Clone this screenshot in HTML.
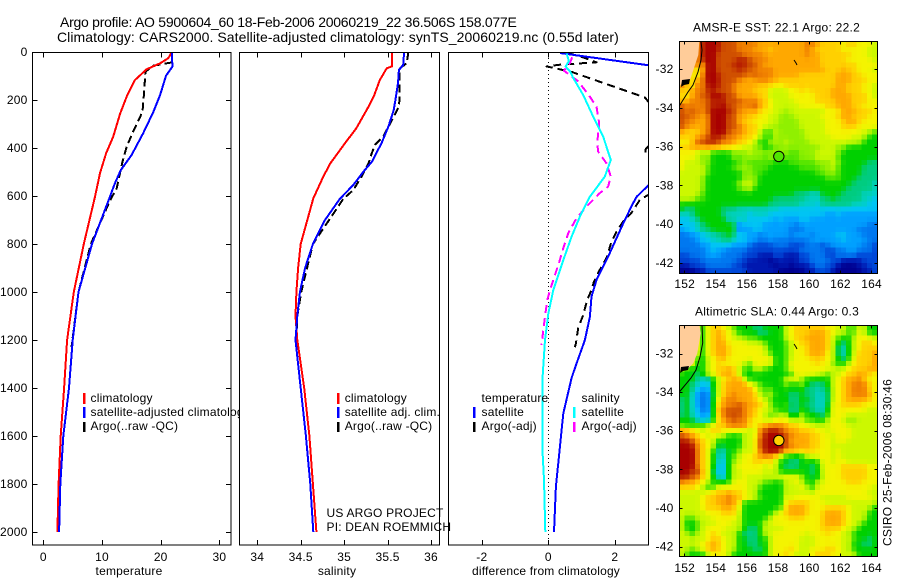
<!DOCTYPE html>
<html lang="en">
<head>
<meta charset="utf-8">
<title>Argo profile 5900604_60</title>
<style>
html,body{margin:0;padding:0;background:#fff;width:900px;height:580px;overflow:hidden}
svg{display:block;font-family:"Liberation Sans",sans-serif;font-size:12px;fill:#000}
text{letter-spacing:.2px}
.frame{fill:none;stroke:#000;stroke-width:1;shape-rendering:crispEdges}
.bg{fill:#fff;stroke:none}
.bar{stroke:none;shape-rendering:crispEdges}
</style>
</head>
<body>
<svg id="chart" xmlns="http://www.w3.org/2000/svg" width="900" height="580" viewBox="0 0 900 580">
<defs>
<clipPath id="clip-temp"><rect x="32.5" y="52.5" width="198.5" height="492.5"/></clipPath>
<clipPath id="clip-sal"><rect x="239.5" y="52.5" width="200" height="492.5"/></clipPath>
<clipPath id="clip-diff"><rect x="448.5" y="52.5" width="200" height="492.5"/></clipPath>
</defs>

<text x="60" y="27" font-size="14" textLength="457" lengthAdjust="spacing">Argo profile: AO 5900604_60 18-Feb-2006 20060219_22 36.506S 158.077E</text>
<text x="57" y="42" font-size="14" textLength="562" lengthAdjust="spacing">Climatology: CARS2000. Satellite-adjusted climatology: synTS_20060219.nc (0.55d later)</text>

<g id="panel-temp">
<rect class="bg" x="32.5" y="52.5" width="198.5" height="492.5"/>
<g id="series-temp"></g>
<rect class="frame" x="32.5" y="52.5" width="198.5" height="492.5"/>
<g id="ticks-temp"></g>
<text x="129" y="575" text-anchor="middle">temperature</text>
<g>
<rect class="bar" x="83" y="393" width="2.5" height="11" fill="#f00"/>
<rect class="bar" x="83" y="407" width="2.5" height="11" fill="#00f"/>
<rect class="bar" x="83" y="422" width="2.5" height="10" fill="#000"/>
<text x="90.5" y="402">climatology</text>
<text x="90.5" y="416">satellite-adjusted climatology</text>
<text x="90.5" y="430">Argo(..raw -QC)</text>
</g>
</g>

<g id="panel-sal">
<rect class="bg" x="239.5" y="52.5" width="200" height="492.5"/>
<g id="series-sal"></g>
<rect class="frame" x="239.5" y="52.5" width="200" height="492.5"/>
<g id="ticks-sal"></g>
<text x="337" y="575" text-anchor="middle">salinity</text>
<g>
<rect class="bar" x="337" y="393" width="2.5" height="11" fill="#f00"/>
<rect class="bar" x="337" y="407" width="2.5" height="11" fill="#00f"/>
<rect class="bar" x="337" y="422" width="2.5" height="10" fill="#000"/>
<text x="344.7" y="402">climatology</text>
<text x="344.7" y="416">satellite adj. clim.</text>
<text x="344.7" y="430">Argo(..raw -QC)</text>
</g>
</g>

<g id="panel-diff">
<rect class="bg" x="448.5" y="52.5" width="200" height="492.5"/>
<g id="series-diff"></g>
<rect class="frame" x="448.5" y="52.5" width="200" height="492.5"/>
<g id="ticks-diff"></g>
<text x="546" y="575" text-anchor="middle" textLength="148" lengthAdjust="spacing">difference from climatology</text>
<g>
<text x="481.5" y="402">temperature</text>
<rect class="bar" x="473" y="407" width="2.5" height="11" fill="#00f"/>
<rect class="bar" x="473" y="422" width="2.5" height="10" fill="#000"/>
<text x="481.5" y="416">satellite</text>
<text x="481.5" y="430">Argo(-adj)</text>
<text x="581.5" y="402">salinity</text>
<rect class="bar" x="573" y="407" width="2.5" height="11" fill="#0ff"/>
<rect class="bar" x="573" y="422" width="2.5" height="10" fill="#f0f"/>
<text x="581.5" y="416">satellite</text>
<text x="581.5" y="430">Argo(-adj)</text>
</g>
</g>

<text x="326.5" y="517">US ARGO PROJECT</text>
<text x="326.5" y="531">PI: DEAN ROEMMICH</text>

<g id="map-sst">
<text x="693" y="31.5" textLength="167" lengthAdjust="spacing">AMSR-E SST: 22.1  Argo: 22.2</text>
<g id="cells-sst"></g>
<polygon points="679.3,41.7 699.3,41.7 698.3,55 693,71 690,80 684,80 680,86 679.3,86" fill="#ffcc99"/>
<polygon points="682,80 690,79 689,84 684,85 681,87" fill="#000"/>
<polyline points="701,41.7 702,50 701,60 698,72 693,85 688,92 679.3,106" fill="none" stroke="#000" stroke-width="1"/>
<polyline points="794,60 796,63 797,65" fill="none" stroke="#000" stroke-width="1"/>
<g id="marker-sst"></g>
<rect class="frame" x="679.5" y="41.5" width="198" height="232"/>
<g id="ticks-sst"></g>
</g>

<g id="map-sla">
<text x="695" y="315.7" textLength="164" lengthAdjust="spacing">Altimetric SLA: 0.44  Argo: 0.3</text>
<g id="cells-sla"></g>
<polygon points="679.3,325 699.3,325 700.7,333.3 697.3,353.3 693.3,363.3 688.3,368.3 679.3,370.7" fill="#ffcc99"/>
<polygon points="681,367 689,366 688,370 683,371 680,373" fill="#000"/>
<polyline points="702,325 702.7,343 700,357 696,370 691,378 679.3,392" fill="none" stroke="#000" stroke-width="1"/>
<polyline points="794,344 796,347 797,349" fill="none" stroke="#000" stroke-width="1"/>
<g id="marker-sla"></g>
<rect class="frame" x="679.5" y="325.5" width="198" height="231"/>
<g id="ticks-sla"></g>
</g>

<text transform="translate(891.5,546) rotate(-90)" textLength="167" lengthAdjust="spacing">CSIRO 25-Feb-2006 08:30:46</text>
</svg>

<script>
// ---------- profile data ----------
const climTempDepth = [0,26,47,72,117,186,256,353,422,505,603,800,1000,1200,1400,1600,1800,2000];
const climTempValues = [21.9,21.3,19.9,17.6,15.6,14.2,13.1,11.9,10.7,9.66,8.8,6.9,5.2,4.05,3.55,2.97,2.6,2.4];
const satTempDepth = [0,61,99,179,249,339,429,492,547,610,800,1000,1200,1400,1600,1800,2000];
const satTempValues = [21.9,22.0,20.9,19.9,18.75,17.0,15.05,13.2,12.2,11.25,8.3,6.0,5.0,4.38,3.41,2.9,2.7];
const argoTempDepth = [43,57,82,158,249,332,394,457,568,617,800,1000,1230];
const argoTempValues = [22.0,18.75,17.4,17.2,16.9,15.3,14.2,13.5,12.5,11.4,8.1,6.0,4.8];

const climSalDepth = [0,60,68,117,186,228,318,380,464,519,610,800,900,1000,1100,1200,1400,1600,1800,2000];
const climSalValues = [35.55,35.55,35.49,35.41,35.34,35.28,35.14,35.01,34.84,34.76,34.645,34.5,34.47,34.45,34.44,34.46,34.54,34.6,34.64,34.68];
const satSalDepth = [0,54,75,130,200,242,311,380,457,499,554,612,700,800,900,1000,1100,1200,1400,1600,1800,2000];
const satSalValues = [35.69,35.68,35.63,35.62,35.59,35.57,35.51,35.43,35.32,35.22,35.105,34.95,34.78,34.64,34.55,34.49,34.46,34.44,34.5,34.56,34.61,34.645];
const argoSalDepth = [0,47,68,186,228,297,353,387,429,464,519,575,612,800,1000,1100,1230];
const argoSalValues = [35.74,35.72,35.64,35.64,35.63,35.53,35.45,35.355,35.31,35.28,35.2,35.105,34.99,34.64,34.505,34.46,34.45];

const diffSatTempDepth = [4,55,70,100,200,300,400,500,557,603,630,700,853,950,1019,1103,1200,1297,1358,1506,1671,1811,2000];
const diffSatTempValues = [0.35,3.0,3.4,5.0,5.6,5.5,5.0,3.7,3.0,2.66,2.55,2.3,1.8,1.45,1.3,1.25,1.1,0.85,0.7,0.45,0.33,0.23,0.17];
const diffArgoTempDepth = [5,20,43,53,60,83,189,300,405,420,500,596,617,671,707,749,790,858,908,957,992,1033,1096,1150,1214,1230];
const diffArgoTempValues = [0.6,1.0,1.45,0.35,-0.05,0.7,2.9,3.6,2.93,2.93,3.6,3.0,2.75,2.5,2.25,2.05,1.9,1.75,1.55,1.37,1.3,1.17,1.05,0.9,0.83,0.8];
const diffSatSalDepth = [6,38,61,80,108,179,269,353,450,519,603,686,769,867,992,1090,1200,1353,1671,1783,1999];
const diffSatSalValues = [0.55,0.62,0.52,0.65,0.75,1.05,1.35,1.65,1.88,1.7,1.25,0.95,0.7,0.45,0.15,0,-0.1,-0.17,-0.17,-0.13,-0.09];
const diffArgoSalDepth = [22,46,78,122,182,228,297,380,415,464,519,561,588,644,692,754,817,874,929,992,1033,1103,1158,1221];
const diffArgoSalValues = [0.72,0.65,0.47,0.9,1.23,1.45,1.53,1.47,1.5,1.75,1.88,1.8,1.55,1.15,0.85,0.6,0.45,0.33,0.2,0.05,-0.03,-0.1,-0.15,-0.2];
const zeroLineDepth = [-9,2054];
const zeroLineValues = [0,0];

// ---------- tick labels ----------
const depthTicks = [0,200,400,600,800,1000,1200,1400,1600,1800,2000];
const tempTicks = [0,10,20,30];
const salTicks = [34,34.5,35,35.5,36];
const diffTicks = [-2,0,2];
const lonTicks = [152,154,156,158,160,162,164];
const latTicks = [-32,-34,-36,-38,-40,-42];

// ---------- Argo float marker ----------
const argoLon = [158.077];
const argoLat = [-36.506];

// ---------- heatmap cells (base-36 level per cell, one string per row) ----------
const sstRows = [
"ffffhiihgggffffeeeeeeeeeffeddddcddcccb",
"ffffhiihgggfffeeedeeeeeefedddddcccccbb",
"ffffhiigggggffffeeeeeeeefeeddddddcccbb",
"ffffhiigggghhgfffeeeeeeeeeedddddcccccbb".slice(0,38),
"ffffeiiggghhhggfeeeeeeeeeeedddddddccccb".slice(0,38),
"ffcceiigggghggffffeeeeeeeeeedddeddcccbb".slice(0,38),
"ffccfiihgggggfgfffeeeeedddddddeeeddcccb".slice(0,38),
"ffcefiihgggfeeeffeedddddddddddeeedddccb".slice(0,38),
"fdcffhihggfeeeedddccddddddddddeedddccb",
"ddeffhhgggfeeedddbbbbccdcddddeeedddccb",
"dcefggiihggeeeeddbbbbcccccdddeeeedddcb",
"defffghhhgggfffedcbbbbccccddddeeedddcc",
"gffffghhiggfffgedcbbbbbcccccddeeeddccc",
"gfgffgiiihgfeeedccbbabbbbbbbccceeedddc",
"ggffefiiiggeeddccbbaaabbbbbcccdeedddcc",
"gffeefiiiggeddcccbbaaaabbbbbcccdeedccc",
"gfeeefiiiggfeddcbbaaaaabbbbbcccdddcccc",
"edddefiiigffeddb99baaaaabbbbcccccccbb9",
"dddefghhgffeddcb98baaaaabbbbbccccbbb88",
"ccdgghhgffeddcb88baabaaaabbbbbbbbbb888",
"ddeeeeeeddccbbaa88aaaaaaaaabbbaa888888",
"cccbab8888aaabaaaaaaa99aaabbbba8888888",
"cccbaa8888a9aaaa9aaa999aaabbbb98888888",
"cbbbaa888889a9999988899999aaaba8888877",
"cbbbb988889aaa9998888889999aab98888777",
"bbbbb9888888aa99888888888899aa988887777".slice(0,38),
"bbbba8888888aaa88888888888889998887777".slice(0,38),
"bbbba888888abba88888888888888888877776".padEnd(38,"6"),
"bbbba8888889ab888888888888888888777776",
"bbbb9888888888888888887776688887777666",
"bbb99888888888888877777766677877777665",
"88888888888888888777777666577777766655".slice(0,38),
"87788888777666666665555555555555555555",
"66788888766665666555555555554454444444",
"55678888866665555545444554444444444444",
"55567888888355554444443444444444444433",
"45567788888344554444433344444444443333",
"33445667787554434444434443444455444333",
"33345566776554433433333334444445444433",
"33334455554443222233322233323444444332",
"33333454433332222222222333332233443332",
"22333444333322211122111223332233332222",
"22223333333221111011111223333221111222",
"11222333332211111101101112332210001122",
"00011222222221111110000011222100000112"
];
const slaRows = [
"cccc8cddcb9888778888bcddddddccbb99bb88",
"cccc8cdedcb888877888bcdddeeedcbb99cb88",
"cccc8cdedcbba9988888bcddeeeedb988bcccb",
"cccc8cdeeccccbbb98889bcddeeedb878bcddc",
"cccc8cdeedccccccb8889bccdeeedb768bcddd",
"cccb8cdeedccccccb9889bccdeeecb768bddde",
"ccc98bcdeccccccccc889bcccdddcb878cddde",
"ccc88bcdccccb9cccc889cccccdcca88bcddde",
"c8888bcddedb98bb98889ccccccccbbbcdddee",
"88878bcdeedb8888888888ccccbb9bbcddeedc",
"8887668bcdeeb8888888bcca88888bcdeefdcc",
"8876558bdeeeecb98888a88a87778bcdefffdc",
"8875448bdeeeeeca9988888877677bcdefffdc",
"8864338bdefeeedb9b88877877667bcdefffec",
"7864338ceffeeedcb988877887667bcdeeeedc",
"7864338deffgfeedca88977877667ccddddccc",
"7865338efgggfedcbb98877887668cccccccbb",
"7865448dfgggfedcb9abb77b88878cccbbbbbb",
"8886558defgffdccbbcccbbb9988bccbaabbbb",
"98899bcddffffdcdefffeddccbbbbcccbbbbbb",
"eedcbcddccccbbbfghhgfeedddccbccccbbbbb",
"gfedcbcbb888bbcfhiihgfeeeddccbcccbbbbb",
"hhgedcb88888bbcghiiigeeeeddccbccbbbbbb",
"iihfdcb78888bbcghiiigfeeeddccbbbbbbbbb",
"iiifdc87688abbcfhiigeeedddcccbcbbbbbbb",
"iiifdc86689bccdefedb8878bbcccbcbbbbbbb",
"iiifdc8658abccddcdb88778888ccbccbbbbbb",
"iiifdc8558bcccccbcb87778878bcccdddddcc",
"iighdc7558bbccccbbb88888878bcccdddddcc",
"hhgfdc8658bbcbbbbbbcccca887bcccdddddcc",
"feedcb8888cccbbb9988bbcb88bbccccdddccc",
"dddcb89ccccccbb98888bbbcb8bccccccccccb",
"bbbbbcdddeddcbb88888bbbbbbccccccccccbb",
"bbbbcddeefeddcb98888cbcccccbbbbbcccccb",
"bbbbcddeefed88888888cddddcccbbbbbbbbbb",
"bbbbcdddeedc88888889deeedcccddddcbbbb8",
"bbbbbcccdddb888888bcdeeedccdeeedcbbb88",
"b99bbbcccccb88888bcccdddcccdeeedcbbb88",
"b889bbbcccbb8888bbcccccccccdeeedcbb888",
"b889bccccbbb8778bbbbcccccccddddcbb8888",
"bb8bbcdcbbb87778bbccccccbcccdccbb88888",
"bbbbbcddcbb887788bcccccbbbcccccbb98878",
"bbbbcdedcbb887788bcccccbbbcccccbb88778",
"bb9bcdedcbb888778bcccdcbbcccddcbb88888",
"b9888bcccb8888888bccdcbbbcdddccbbb8888"
];
const levelColors = ["#000090","#0018b0","#0048d8","#0078f0","#00a0ff","#00c4f4","#00d0c0","#00cc80","#00d000","#50e400","#90f000","#ccf800","#f4f400","#ffd000","#ffa800","#f08000","#d05000","#b82000","#a80000"];
const argoSstLevel = [9];
const argoSlaLevel = [13];

// ---------- axis functions ----------
const yDepth = d => 52 + d * 0.24;
const xTemp = v => 43.3 + 5.87 * v;
const xSal = v => 257.3 + 86.85 * (v - 34);
const xDiff = v => 548.3 + 33.25 * v;
const xLon = lon => 684.2 + 15.57 * (lon - 152);
const ySst = lat => 69 + 19.4 * (-32 - lat);
const ySla = lat => 353.5 + 19.3 * (-32 - lat);

const NS = "http://www.w3.org/2000/svg";
function add(parent, tag, attrs) {
  const el = document.createElementNS(NS, tag);
  for (const k in attrs) el.setAttribute(k, attrs[k]);
  document.getElementById(parent).appendChild(el);
  return el;
}
function drawSeries(parent, name, depths, values, xFn, color, width, dash, clip) {
  const pts = depths.map((d, i) => xFn(values[i]).toFixed(1) + "," + yDepth(d).toFixed(1)).join(" ");
  const el = add(parent, "polyline", {points: pts, fill: "none", stroke: color, "stroke-width": width, "stroke-linejoin": "round", "shape-rendering": "crispEdges", "clip-path": "url(#" + clip + ")"});
  if (dash) el.setAttribute("stroke-dasharray", dash);
  
  
}
function tick(parent, x1, y1, x2, y2) {
  const el = add(parent, "line", {x1: x1, y1: y1, x2: x2, y2: y2, stroke: "#000", "stroke-width": 1, "shape-rendering": "crispEdges"});
  
  
}
function label(parent, x, y, anchor, str) {
  const el = add(parent, "text", {x: x, y: y, "text-anchor": anchor});
  el.textContent = str;
  
  
}
function drawXTicks(parent, ticks, xFn, top, bottom, len, labelY) {
  ticks.forEach(t => {
    const x = Math.round(xFn(t)) + 0.5;
    tick(parent, x, top, x, top + len);
    tick(parent, x, bottom, x, bottom - len);
    label(parent, xFn(t), labelY, "middle", String(t));
  });
}

// ---------- profile panels ----------
drawSeries("series-temp", "temperature-argo-line", argoTempDepth, argoTempValues, xTemp, "#000", 2, "8 4", "clip-temp");
drawSeries("series-temp", "temperature-climatology-line", climTempDepth, climTempValues, xTemp, "#f00", 2, "", "clip-temp");
drawSeries("series-temp", "temperature-satellite-line", satTempDepth, satTempValues, xTemp, "#00f", 2, "", "clip-temp");

drawSeries("series-sal", "salinity-argo-line", argoSalDepth, argoSalValues, xSal, "#000", 2, "8 4", "clip-sal");
drawSeries("series-sal", "salinity-climatology-line", climSalDepth, climSalValues, xSal, "#f00", 2, "", "clip-sal");
drawSeries("series-sal", "salinity-satellite-line", satSalDepth, satSalValues, xSal, "#00f", 2, "", "clip-sal");

drawSeries("series-diff", "zero-reference-line", zeroLineDepth, zeroLineValues, xDiff, "#000", 1, "1 3", "clip-diff");
drawSeries("series-diff", "temp-diff-argo-line", diffArgoTempDepth, diffArgoTempValues, xDiff, "#000", 2, "8 5", "clip-diff");
drawSeries("series-diff", "sal-diff-argo-line", diffArgoSalDepth, diffArgoSalValues, xDiff, "#f0f", 2, "8 5", "clip-diff");
drawSeries("series-diff", "temp-diff-satellite-line", diffSatTempDepth, diffSatTempValues, xDiff, "#00f", 2, "", "clip-diff");
drawSeries("series-diff", "sal-diff-satellite-line", diffSatSalDepth, diffSatSalValues, xDiff, "#0ff", 2, "", "clip-diff");

drawXTicks("ticks-temp", tempTicks, xTemp, 52.5, 545, 5, 561);
drawXTicks("ticks-sal", salTicks, xSal, 52.5, 545, 5, 561);
drawXTicks("ticks-diff", diffTicks, xDiff, 52.5, 545, 5, 561);
depthTicks.forEach(d => {
  const y = Math.round(yDepth(d)) + 0.5;
  tick("ticks-temp", 32.5, y, 37.5, y);
  tick("ticks-temp", 231, y, 226, y);
  label("ticks-temp", 27.5, yDepth(d) + 4, "end", String(d));
});

// ---------- maps ----------
function hexToRgb(hex) {
  return [1, 3, 5].map(i => parseInt(hex.slice(i, i + 2), 16));
}
function colorFor(level) {
  const lo = Math.max(0, Math.min(levelColors.length - 2, Math.floor(level)));
  const f = Math.min(1, level - lo);
  const a = hexToRgb(levelColors[lo]), b = hexToRgb(levelColors[lo + 1]);
  return "rgb(" + a.map((v, i) => Math.round(v + (b[i] - v) * f)).join(",") + ")";
}
function levelAt(rows, r, c) {
  const row = rows[Math.max(0, Math.min(rows.length - 1, r))];
  return parseInt(row[Math.max(0, Math.min(37, c))], 36);
}
function drawCells(parent, name, rows, left, top, width, height) {
  const cw = width / 38, ch = height / rows.length;
  rows.forEach((row, r) => {
    for (let c = 0; c < 38; c++) {
      const level = (4 * levelAt(rows, r, c) + levelAt(rows, r - 1, c) + levelAt(rows, r + 1, c) + levelAt(rows, r, c - 1) + levelAt(rows, r, c + 1)) / 8;
      const el = add(parent, "rect", {x: (left + c * cw).toFixed(2), y: (top + r * ch).toFixed(2), width: (cw + 0.4).toFixed(2), height: (ch + 0.4).toFixed(2), fill: colorFor(level), "shape-rendering": "crispEdges"});
      
      
    }
  });
}
function drawMarker(parent, name, lon, lat, yFn, level) {
  const el = add(parent, "circle", {cx: xLon(lon), cy: yFn(lat), r: 5.2, fill: colorFor(level), stroke: "#000", "stroke-width": 1});
  
  
}
function drawMapTicks(parent, yFn, left, right, top, bottom, labelY) {
  lonTicks.forEach(t => {
    const x = Math.round(xLon(t)) + 0.5;
    tick(parent, x, top, x, top + 3);
    tick(parent, x, bottom, x, bottom - 3);
    label(parent, xLon(t) + 0.5, labelY, "middle", String(t));
  });
  latTicks.forEach(t => {
    const y = Math.round(yFn(t)) + 0.5;
    tick(parent, left, y, left + 3, y);
    tick(parent, right, y, right - 3, y);
    label(parent, 673.5, yFn(t) + 4, "end", String(t));
  });
}
drawCells("cells-sst", "sst-cell", sstRows, 679.3, 41.7, 198, 231.6);
drawCells("cells-sla", "sla-cell", slaRows, 679.3, 325, 198, 231.7);
argoLon.forEach((lon, i) => {
  drawMarker("marker-sst", "argo-marker-sst", lon, argoLat[i], ySst, argoSstLevel[i]);
  drawMarker("marker-sla", "argo-marker-sla", lon, argoLat[i], ySla, argoSlaLevel[i]);
});
drawMapTicks("ticks-sst", ySst, 679.5, 877.5, 41.5, 273.5, 288);
drawMapTicks("ticks-sla", ySla, 679.5, 877.5, 325.5, 556.5, 572);
</script>
</body>
</html>
